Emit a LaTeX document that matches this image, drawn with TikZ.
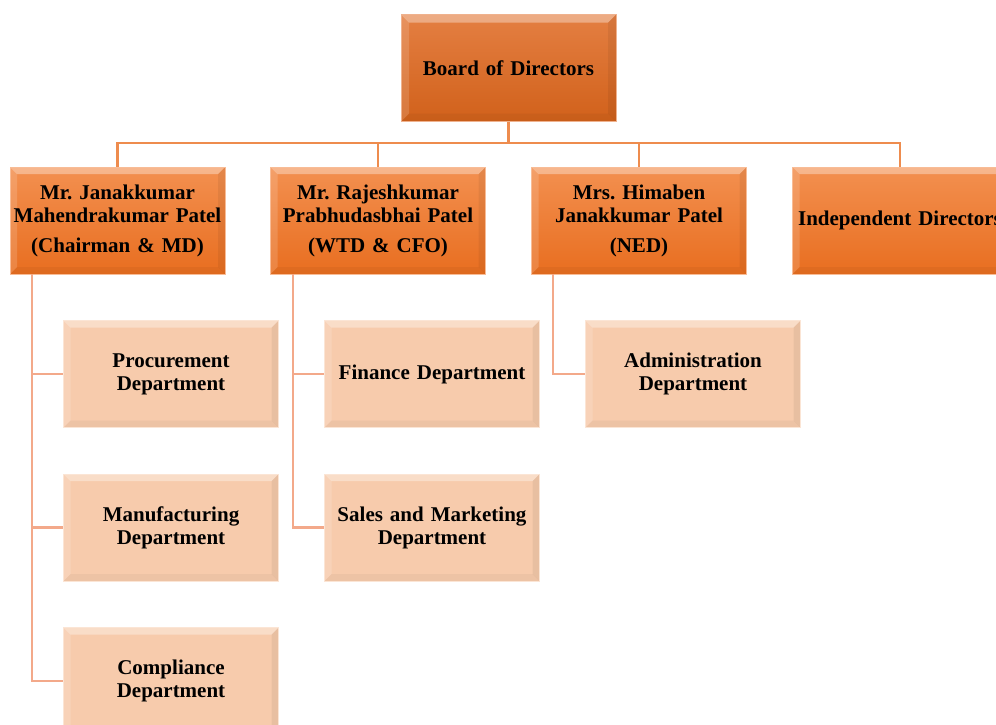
\documentclass[tikz,border=0pt]{standalone}
\usepackage{fontspec}
\setmainfont{Liberation Serif}
\usetikzlibrary{positioning}

\definecolor{boardtop}{HTML}{E47F42}
\definecolor{boardbot}{HTML}{D1611B}
\definecolor{leadtop}{HTML}{F39050}
\definecolor{leadbot}{HTML}{E86E20}
\definecolor{deptfill}{HTML}{F7CBAC}
\definecolor{busorange}{HTML}{EE8C4E}
\definecolor{subpeach}{HTML}{F3A98A}

\tikzset{
  bevel/.style={path picture={
    \fill[white,opacity=.35] (path picture bounding box.north west) -- (path picture bounding box.north east)
      -- ([shift={(-#1,-#1)}]path picture bounding box.north east) -- ([shift={(#1,-#1)}]path picture bounding box.north west) -- cycle;
    \fill[white,opacity=.15] (path picture bounding box.north west) -- (path picture bounding box.south west)
      -- ([shift={(#1,#1)}]path picture bounding box.south west) -- ([shift={(#1,-#1)}]path picture bounding box.north west) -- cycle;
    \fill[black,opacity=.06] (path picture bounding box.north east) -- (path picture bounding box.south east)
      -- ([shift={(-#1,#1)}]path picture bounding box.south east) -- ([shift={(-#1,-#1)}]path picture bounding box.north east) -- cycle;
    \fill[black,opacity=.04] (path picture bounding box.south west) -- (path picture bounding box.south east)
      -- ([shift={(-#1,#1)}]path picture bounding box.south east) -- ([shift={(#1,#1)}]path picture bounding box.south west) -- cycle;
  }},
  orgbox/.style={rectangle, minimum width=215pt, minimum height=107pt, inner sep=0pt,
    text width=214pt, align=center, font=\fontsize{21}{23}\selectfont\bfseries\frenchspacing},
  boardbox/.style={orgbox, draw=boardtop!60!white, line width=0.8pt,
    top color=boardtop, bottom color=boardbot, bevel=8pt},
  leadbox/.style={orgbox, draw=leadtop!60!white, line width=0.8pt,
    top color=leadtop, bottom color=leadbot, bevel=7pt},
  deptbox/.style={orgbox, text width=205pt, draw=deptfill!50!white, line width=0.8pt,
    fill=deptfill, bevel=7pt},
  busline/.style={draw=busorange, line width=2.6pt},
  subline/.style={draw=subpeach, line width=2.6pt}
}

\begin{document}
\begin{tikzpicture}[x=1pt,y=-1pt]
\useasboundingbox (0,0) rectangle (996,724);
\clip (0,0) rectangle (996,724);

% board and directors
\node[boardbox] (board) at (508.5,68) {Board of Directors};
\node[leadbox] (janak) at (117.5,220.5) {Mr. Janakkumar\\Mahendrakumar Patel\\[7pt](Chairman \& MD)};
\node[leadbox] (rajesh) at (378,220.5) {Mr. Rajeshkumar\\Prabhudasbhai Patel\\[7pt](WTD \& CFO)};
\node[leadbox] (hima) at (639,220.5) {Mrs. Himaben\\Janakkumar Patel\\[7pt](NED)};
\node[leadbox] (indep) at (900,220.5) {Independent Directors};

% departments
\node[deptbox] (proc) at (171,374) {Procurement\\Department};
\node[deptbox] (manu) at (171,527.5) {Manufacturing\\Department};
\node[deptbox] (comp) at (171,681) {Compliance\\Department};
\node[deptbox] (fin) at (432,374) {Finance Department};
\node[deptbox] (sales) at (432,527.5) {Sales and Marketing\\Department};
\node[deptbox] (admin) at (693,374) {Administration\\Department};

% top level connectors
\coordinate (bus) at (508.5,143);
\draw[busline] (board) -- (bus);
\draw[busline] (janak) |- (bus) -| (indep);
\draw[busline] (rajesh) -- (rajesh |- bus);
\draw[busline] (hima) -- (hima |- bus);

% department connectors
\coordinate (trunkA) at ([xshift=-85.5pt]janak.south);
\coordinate (trunkB) at ([xshift=-85pt]rajesh.south);
\coordinate (trunkC) at ([xshift=-86pt]hima.south);
\draw[subline] (trunkA) |- (comp.west);
\draw[subline] (trunkA) |- (manu.west);
\draw[subline] (trunkA) |- (proc.west);
\draw[subline] (trunkB) |- (sales.west);
\draw[subline] (trunkB) |- (fin.west);
\draw[subline] (trunkC) |- (admin.west);
\end{tikzpicture}
\end{document}
